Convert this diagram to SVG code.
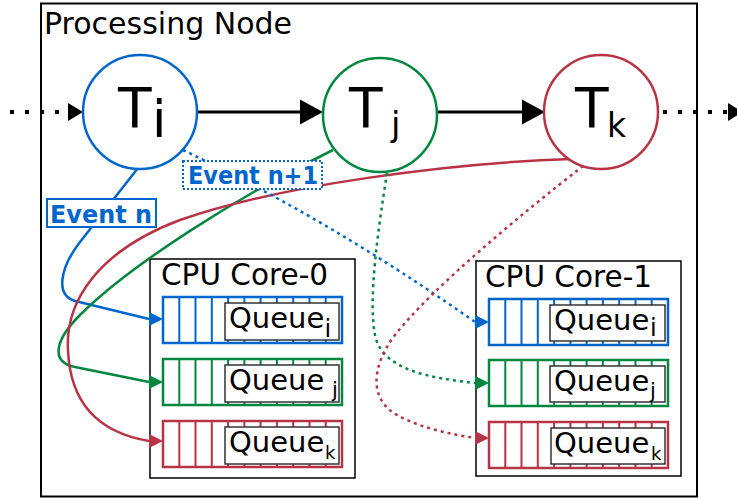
<svg xmlns="http://www.w3.org/2000/svg" width="737" height="498" viewBox="0 0 737 498">
<style>
text{font-family:"DejaVu Sans","Liberation Sans",sans-serif;fill:#000}
.frame{fill:#fff;stroke:#000;stroke-width:2}
.core{fill:#fff;stroke:#000;stroke-width:1.5}
.task{fill:#fff;stroke-width:2.5}
.b{stroke:#0066cc}.g{stroke:#00873f}.r{stroke:#b83345}
.row{fill:#fff;stroke-width:2.5}
.cell{fill:none;stroke-width:2}
.lbl{fill:#fff;stroke:#333;stroke-width:1.5}
.qt{font-size:29px}
.conn{fill:none;stroke-width:2.5}
.dot{stroke-dasharray:3 4}
.blk{fill:none;stroke:#000;stroke-width:3}
.bdot{fill:none;stroke:#000;stroke-width:4;stroke-dasharray:4 11}
.ev{font-weight:bold;font-size:25px;fill:#0066cc}
</style>
<defs>
<marker id="ahBig" markerUnits="userSpaceOnUse" markerWidth="23" markerHeight="25" refX="0" refY="12.5" orient="auto" overflow="visible"><path d="M0,0 L23,12.5 L0,25 z" fill="#000"/></marker>
<marker id="ahDot" markerUnits="userSpaceOnUse" markerWidth="15" markerHeight="18" refX="0" refY="9" orient="auto" overflow="visible"><path d="M0,0 L15,9 L0,18 z" fill="#000"/></marker>
<marker id="ahB" markerUnits="userSpaceOnUse" markerWidth="14" markerHeight="14" refX="0" refY="7" orient="0" overflow="visible"><path d="M0,0 L14,7 L0,14 z" fill="#0066cc"/></marker>
<marker id="ahG" markerUnits="userSpaceOnUse" markerWidth="14" markerHeight="14" refX="0" refY="7" orient="0" overflow="visible"><path d="M0,0 L14,7 L0,14 z" fill="#00873f"/></marker>
<marker id="ahR" markerUnits="userSpaceOnUse" markerWidth="14" markerHeight="14" refX="0" refY="7" orient="0" overflow="visible"><path d="M0,0 L14,7 L0,14 z" fill="#b83345"/></marker>
</defs>

<g id="processing-node">
<rect class="frame" x="41" y="3.5" width="656" height="493"/>
<text x="44" y="34" font-size="30">Processing Node</text>
</g>

<g id="cpu-core-0">
<rect class="core" x="150" y="259" width="205" height="219"/>
<text x="161" y="285" font-size="29.5">CPU Core-0</text>
<g id="c0-queue-i">
<rect class="row b" x="163" y="297" width="179" height="46"/>
<path class="cell b" d="M179.3,297v46M195.5,297v46M211.8,297v46M228.1,297v46M244.4,297v46M260.6,297v46M276.9,297v46M293.2,297v46M309.5,297v46M325.7,297v46"/>
<rect class="lbl" x="225" y="303" width="114" height="37"/>
<text class="qt" x="229" y="328">Queue</text><text x="324.5" y="337" font-size="24">i</text>
</g>
<g id="c0-queue-j">
<rect class="row g" x="163" y="359" width="179" height="46"/>
<path class="cell g" d="M179.3,359v46M195.5,359v46M211.8,359v46M228.1,359v46M244.4,359v46M260.6,359v46M276.9,359v46M293.2,359v46M309.5,359v46M325.7,359v46"/>
<rect class="lbl" x="225" y="365" width="114" height="37"/>
<text class="qt" x="229" y="390">Queue</text><text x="332" y="397" font-size="21">j</text>
</g>
<g id="c0-queue-k">
<rect class="row r" x="163" y="421" width="179" height="46"/>
<path class="cell r" d="M179.3,421v46M195.5,421v46M211.8,421v46M228.1,421v46M244.4,421v46M260.6,421v46M276.9,421v46M293.2,421v46M309.5,421v46M325.7,421v46"/>
<rect class="lbl" x="225" y="427" width="114" height="37"/>
<text class="qt" x="229" y="452">Queue</text><text x="325" y="459" font-size="18">k</text>
</g>
</g>

<g id="cpu-core-1">
<rect class="core" x="476" y="261" width="205" height="215"/>
<text x="485" y="287" font-size="29.5">CPU Core-1</text>
<g id="c1-queue-i">
<rect class="row b" x="489" y="299" width="179" height="46"/>
<path class="cell b" d="M505.3,299v46M521.5,299v46M537.8,299v46M554.1,299v46M570.4,299v46M586.6,299v46M602.9,299v46M619.2,299v46M635.5,299v46M651.7,299v46"/>
<rect class="lbl" x="550" y="305" width="115" height="36"/>
<text class="qt" x="554" y="330">Queue</text><text x="650" y="336" font-size="24">i</text>
</g>
<g id="c1-queue-j">
<rect class="row g" x="489" y="360" width="179" height="46"/>
<path class="cell g" d="M505.3,360v46M521.5,360v46M537.8,360v46M554.1,360v46M570.4,360v46M586.6,360v46M602.9,360v46M619.2,360v46M635.5,360v46M651.7,360v46"/>
<rect class="lbl" x="550" y="366" width="115" height="36"/>
<text class="qt" x="554" y="391">Queue</text><text x="650" y="398" font-size="21">j</text>
</g>
<g id="c1-queue-k">
<rect class="row r" x="489" y="422" width="179" height="46"/>
<path class="cell r" d="M505.3,422v46M521.5,422v46M537.8,422v46M554.1,422v46M570.4,422v46M586.6,422v46M602.9,422v46M619.2,422v46M635.5,422v46M651.7,422v46"/>
<rect class="lbl" x="551" y="428" width="114" height="36"/>
<text class="qt" x="554" y="453">Queue</text><text x="651" y="460" font-size="18">k</text>
</g>
</g>

<g id="connectors">
<line class="bdot" x1="10" y1="112" x2="68" y2="112" marker-end="url(#ahDot)"/>
<line class="blk" x1="197" y1="112" x2="300" y2="112" marker-end="url(#ahBig)"/>
<line class="blk" x1="438" y1="112" x2="522" y2="112" marker-end="url(#ahBig)"/>
<line class="bdot" x1="663" y1="112" x2="728" y2="112" marker-end="url(#ahDot)"/>
<path class="conn b" d="M138,168 L80,242 C60,268 55,295 75,301 L149,319" marker-end="url(#ahB)"/>
<path class="conn g" d="M333,150 C240,195 130,265 80,315 C55,340 50,362 75,367 L149,382" marker-end="url(#ahG)"/>
<path class="conn r" d="M572,159 C450,163 280,185 180,220 C100,250 65,300 68,350 C70,400 95,432 149,441" marker-end="url(#ahR)"/>
<path class="conn b dot" d="M183,150 Q330,220 475,322" marker-end="url(#ahB)"/>
<path class="conn g dot" d="M387,173 C378,230 368,300 375,335 C382,370 430,378 475,383" marker-end="url(#ahG)"/>
<path class="conn r dot" d="M583,166 C520,215 430,290 395,335 C370,368 370,400 397,415 C420,428 450,434 475,438" marker-end="url(#ahR)"/>
</g>

<g id="task-i">
<circle class="task b" cx="140" cy="112" r="57"/>
<text x="118" y="127" font-size="55">T</text><text x="152" y="137" font-size="52">i</text>
</g>
<g id="task-j">
<circle class="task g" cx="380" cy="115" r="57"/>
<text x="349" y="127" font-size="55">T</text><text x="391" y="136" font-size="34">j</text>
</g>
<g id="task-k">
<circle class="task r" cx="601" cy="112" r="57"/>
<text x="575" y="127" font-size="55">T</text><text x="607" y="137" font-size="33">k</text>
</g>

<g id="event-n">
<rect x="47" y="199" width="109" height="28" fill="#fff" stroke="#0066cc" stroke-width="2"/>
<text class="ev" x="50" y="223" textLength="102" lengthAdjust="spacingAndGlyphs">Event n</text>
</g>
<g id="event-n1">
<rect x="183" y="161" width="139" height="28" fill="#fff" stroke="#0066cc" stroke-width="2" stroke-dasharray="2 2"/>
<text class="ev" x="188" y="184" textLength="130" lengthAdjust="spacingAndGlyphs">Event n+1</text>
</g>
</svg>
